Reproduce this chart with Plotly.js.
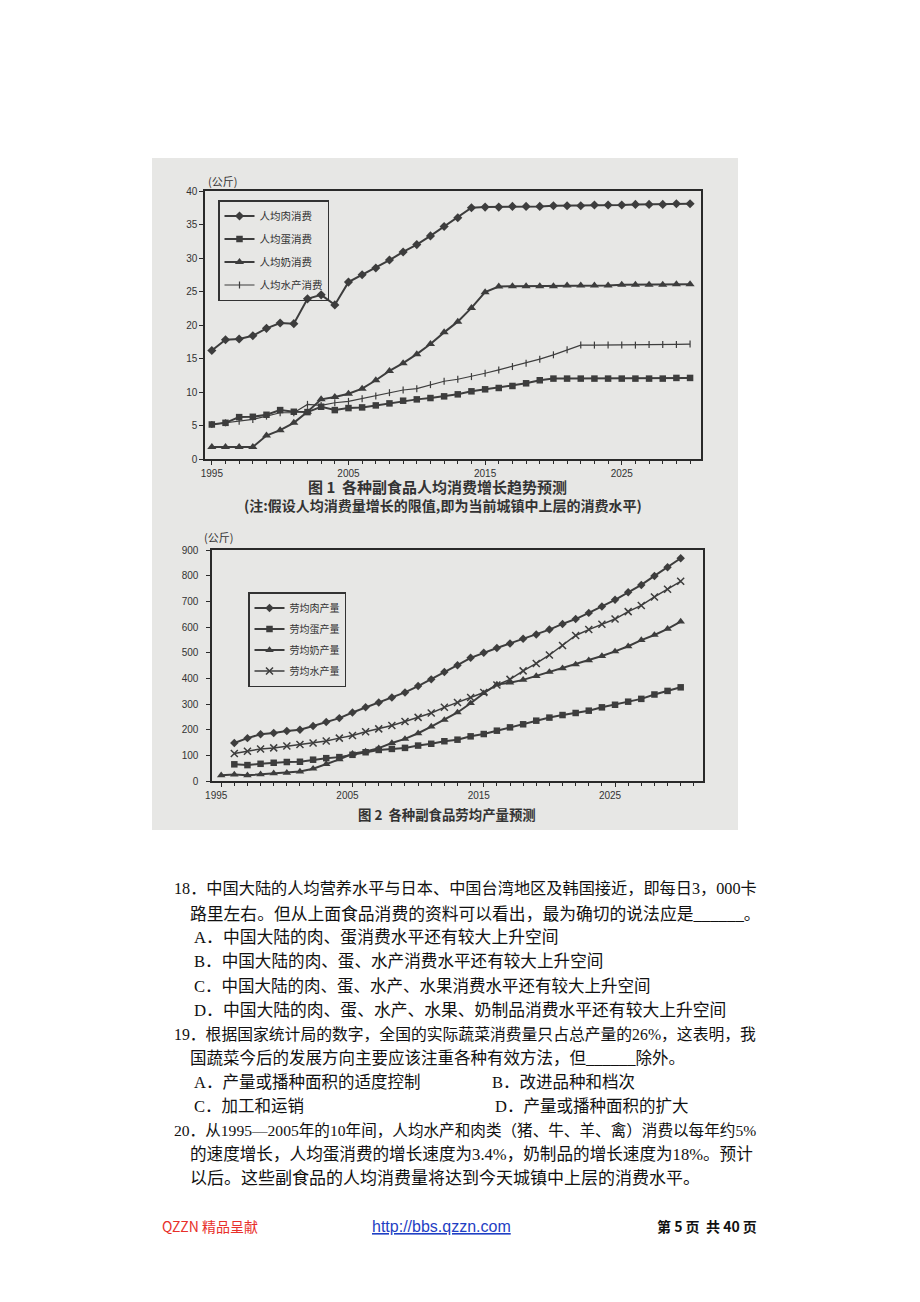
<!DOCTYPE html>
<html>
<head>
<meta charset="utf-8">
<script src="https://cdn.plot.ly/plotly-3.0.1.min.js"></script>
<style>html,body{margin:0;padding:0;background:#fff;}#chart{width:920px;height:1302px;}</style>
</head>
<body>
<div id="chart"></div>
<script>
// ---- data ----
const years = [1995,1996,1997,1998,1999,2000,2001,2002,2003,2004,2005,2006,2007,2008,2009,2010,2011,2012,2013,2014,2015,2016,2017,2018,2019,2020,2021,2022,2023,2024,2025,2026,2027,2028,2029,2030];
const years2 = [1996,1997,1998,1999,2000,2001,2002,2003,2004,2005,2006,2007,2008,2009,2010,2011,2012,2013,2014,2015,2016,2017,2018,2019,2020,2021,2022,2023,2024,2025,2026,2027,2028,2029,2030];
const xTickYears = [1995,2005,2015,2025];

// Figure 1: per-capita consumption (kg)
const meatCons = [16.2,17.8,17.9,18.4,19.5,20.3,20.2,23.9,24.5,23.0,26.4,27.5,28.5,29.7,30.9,32.0,33.3,34.7,36.0,37.5,37.6,37.6,37.7,37.7,37.7,37.8,37.8,37.8,37.9,37.9,37.9,38.0,38.0,38.0,38.1,38.1];
const eggCons = [5.15,5.4,6.25,6.3,6.6,7.3,7.05,7.0,7.8,7.3,7.6,7.7,8.0,8.3,8.7,8.9,9.1,9.35,9.65,10.1,10.4,10.6,10.9,11.3,11.75,12.0,12.0,12.0,12.0,12.0,12.0,12.0,12.0,12.0,12.1,12.1];
const milkCons = [1.8,1.8,1.8,1.8,3.5,4.3,5.4,7.05,8.9,9.25,9.75,10.5,11.75,13.15,14.3,15.65,17.15,18.9,20.5,22.55,24.9,25.75,25.8,25.8,25.8,25.8,25.9,25.9,25.9,25.9,26.0,26.0,26.0,26.0,26.1,26.1];
const fishCons = [5.15,5.4,5.65,5.9,6.4,6.9,6.9,8.15,8.0,8.4,8.6,9.0,9.4,9.9,10.3,10.5,11.1,11.6,11.9,12.3,12.8,13.3,13.8,14.3,14.9,15.55,16.3,17.0,17.0,17.0,17.0,17.0,17.1,17.1,17.1,17.15];
const names1 = ["人均肉消费","人均蛋消费","人均奶消费","人均水产消费"];

// Figure 2: per-labourer output (kg)
const meatProd = [148,167,182,187,195,200,214,230,245,267,287,306,325,345,370,396,425,451,480,500,518,536,554,571,590,612,631,655,680,706,735,764,799,833,868];
const eggProd = [65,62,67,71,74,75,83,89,93,102,112,121,125,129,138,145,155,161,174,183,196,209,221,235,247,257,265,274,287,297,309,320,337,351,365];
const milkProd = [22,25,22,26,30,32,37,48,66,84,106,115,128,148,164,186,212,238,267,303,342,376,383,394,409,425,439,454,470,487,505,525,549,569,593,621];
const fishProd = [107,116,125,129,136,142,148,156,167,177,192,203,216,232,248,265,287,306,325,345,374,396,429,458,491,528,567,590,611,631,660,684,717,747,778];
const names2 = ["劳均肉产量","劳均蛋产量","劳均奶产量","劳均水产量"];

// ---- page geometry helpers ----
const W = 920, H = 1302;
const px = v => v / W;
const py = v => 1 - v / H;

const LINE = '#3d3d3d';
const CJK = '"Noto Sans CJK SC", "Noto Sans", sans-serif';
const BODYFONT = '"Liberation Serif", "Noto Sans CJK SC", serif';
const LAT = '"Liberation Sans", Arial, sans-serif';

function tr(x, y, name, symbol, size, lw, xa, ya, lg, grp, mlw) {
  return {
    x: x, y: y, name: name, type: 'scatter', mode: 'lines+markers',
    xaxis: xa, yaxis: ya, legend: lg, legendgroup: grp,
    line: {color: LINE, width: lw},
    marker: {symbol: symbol, size: size, color: LINE, line: {color: LINE, width: mlw || 0}}
  };
}

const traces = [
  tr(years, meatCons, names1[0], 'diamond', 7, 2, 'x', 'y', 'legend', 'a1'),
  tr(years, eggCons, names1[1], 'square', 6.5, 2, 'x', 'y', 'legend', 'a2'),
  tr(years, milkCons, names1[2], 'triangle-up', 8, 2, 'x', 'y', 'legend', 'a3'),
  tr(years, fishCons, names1[3], 'line-ns', 5, 1.2, 'x', 'y', 'legend', 'a4', 1.2),
  tr(years2, meatProd, names2[0], 'diamond', 6.5, 2, 'x2', 'y2', 'legend2', 'b1'),
  tr(years2, eggProd, names2[1], 'square', 6.5, 2, 'x2', 'y2', 'legend2', 'b2'),
  tr(years, milkProd, names2[2], 'triangle-up', 7.5, 2, 'x2', 'y2', 'legend2', 'b3'),
  tr(years2, fishProd, names2[3], 'x-thin', 7, 1.5, 'x2', 'y2', 'legend2', 'b4', 1.5)
];

const axisCommon = {
  showline: true, linecolor: '#2a2a2a', linewidth: 1.6, mirror: true,
  showgrid: false, zeroline: false,
  ticks: 'outside', tickcolor: '#2a2a2a', ticklen: 4, tickwidth: 1,
  tickfont: {family: LAT, size: 10, color: '#333'}
};

function ann(text, x, y, size, opts) {
  return Object.assign({
    text: text, x: px(x), y: py(y), xref: 'paper', yref: 'paper',
    xanchor: 'left', yanchor: 'middle', showarrow: false,
    font: {family: BODYFONT, size: size, color: '#111'}
  }, opts || {});
}

const annotations = [
  ann('(公斤)', 206, 181, 11, {font: {family: CJK, size: 11, color: '#333'}}),
  ann('(公斤)', 202, 537, 11, {font: {family: CJK, size: 11, color: '#333'}}),
  ann('<b>图 1  各种副食品人均消费增长趋势预测</b>', 437, 487, 15, {xanchor: 'center', font: {family: CJK, size: 15, color: '#333'}}),
  ann('<b>(注:假设人均消费量增长的限值,即为当前城镇中上层的消费水平)</b>', 443, 505, 14, {xanchor: 'center', font: {family: CJK, size: 14, color: '#333'}}),
  ann('<b>图 2  各种副食品劳均产量预测</b>', 447, 814, 13.4, {xanchor: 'center', font: {family: CJK, size: 13.4, color: '#333'}}),

  ann('18．中国大陆的人均营养水平与日本、中国台湾地区及韩国接近，即每日3，000卡', 172, 889, 16.2),
  ann('路里左右。但从上面食品消费的资料可以看出，最为确切的说法应是______。', 188, 914, 16.8),
  ann('A．中国大陆的肉、蛋消费水平还有较大上升空间', 192, 937, 16.8),
  ann('B．中国大陆的肉、蛋、水产消费水平还有较大上升空间', 192, 962, 16.6),
  ann('C．中国大陆的肉、蛋、水产、水果消费水平还有较大上升空间', 192, 986, 16.5),
  ann('D．中国大陆的肉、蛋、水产、水果、奶制品消费水平还有较大上升空间', 192, 1010, 16.8),
  ann('19．根据国家统计局的数字，全国的实际蔬菜消费量只占总产量的26%，这表明，我', 172, 1034, 15.8),
  ann('国蔬菜今后的发展方向主要应该注重各种有效方法，但______除外。', 188, 1058, 16.5),
  ann('A．产量或播种面积的适度控制', 192, 1082, 16.5),
  ann('B．改进品种和档次', 490, 1082, 16.5),
  ann('C．加工和运销', 192, 1106, 16.5),
  ann('D．产量或播种面积的扩大', 493, 1106, 16.5),
  ann('20．从1995—2005年的10年间，人均水产和肉类（猪、牛、羊、禽）消费以每年约5%', 172, 1130, 15.6),
  ann('的速度增长，人均蛋消费的增长速度为3.4%，奶制品的增长速度为18%。预计', 188, 1154, 16.6),
  ann('以后。这些副食品的人均消费量将达到今天城镇中上层的消费水平。', 188, 1178, 17.0),

  ann('QZZN 精品呈献', 160, 1226, 14, {font: {family: CJK, size: 14, color: '#e8302a'}}),
  ann('<u>http://bbs.qzzn.com</u>', 370, 1226, 16, {font: {family: LAT, size: 16, color: '#1f3fc4'}}),
  ann('<b>第 5 页  共 40 页</b>', 655, 1226, 14, {font: {family: CJK, size: 14, color: '#111'}})
];

const layout = {
  width: W, height: H,
  margin: {l: 0, r: 0, t: 0, b: 0, pad: 0},
  paper_bgcolor: '#ffffff', plot_bgcolor: 'rgba(0,0,0,0)',
  showlegend: true,
  xaxis: Object.assign({}, axisCommon, {
    domain: [px(205), px(701)], range: [1994.5, 2030.8], anchor: 'y',
    tickvals: xTickYears, ticktext: xTickYears.map(String),
    minor: {ticks: 'outside', dtick: 1, tick0: 1995, ticklen: 3, tickcolor: '#2a2a2a'}
  }),
  yaxis: Object.assign({}, axisCommon, {
    domain: [py(459), py(191)], range: [0, 40], dtick: 5, anchor: 'x'
  }),
  xaxis2: Object.assign({}, axisCommon, {
    domain: [px(212), px(703)], range: [1994.3, 2031.7], anchor: 'y2',
    tickvals: xTickYears, ticktext: xTickYears.map(String), ticklabelshift: -5,
    minor: {ticks: 'outside', dtick: 1, tick0: 1995, ticklen: 3, tickcolor: '#2a2a2a'}
  }),
  yaxis2: Object.assign({}, axisCommon, {
    domain: [py(781), py(550)], range: [0, 900], dtick: 100, anchor: 'x2',
    ticklabelstandoff: 6
  }),
  legend: {
    x: px(218), y: py(200), xanchor: 'left', yanchor: 'top',
    bgcolor: 'rgba(0,0,0,0)', bordercolor: '#333', borderwidth: 1.5,
    font: {family: CJK, size: 10.5, color: '#333'},
    traceorder: 'grouped', tracegroupgap: 4
  },
  legend2: {
    x: px(248), y: py(592), xanchor: 'left', yanchor: 'top',
    bgcolor: 'rgba(0,0,0,0)', bordercolor: '#333', borderwidth: 1.5,
    font: {family: CJK, size: 10, color: '#333'},
    traceorder: 'grouped', tracegroupgap: 2
  },
  shapes: [{
    type: 'rect', xref: 'paper', yref: 'paper', layer: 'below',
    x0: px(152), x1: px(738), y0: py(830), y1: py(158),
    fillcolor: '#e7e7e5', line: {width: 0}
  }],
  annotations: annotations
};

Plotly.newPlot('chart', traces, layout, {staticPlot: true, displayModeBar: false});
</script>
</body>
</html>
